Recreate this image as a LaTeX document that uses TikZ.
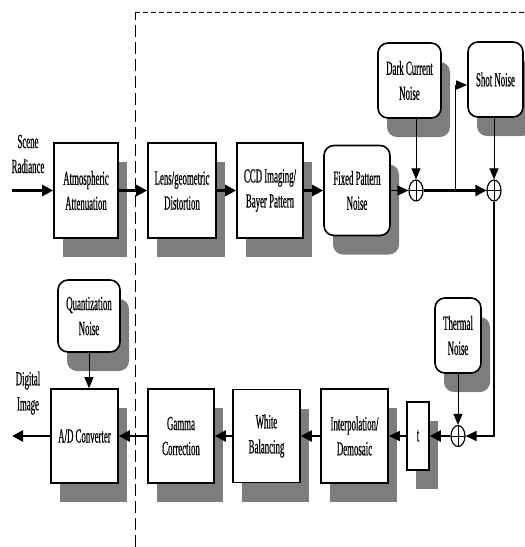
\documentclass[tikz,border=0pt]{standalone}
\usepackage{fontspec}
\newfontfamily\lab{Liberation Serif}[FakeStretch=0.44,FakeBold=0.5]
\usetikzlibrary{arrows.meta,shapes.geometric,shadows}
\definecolor{shade}{RGB}{125,125,125}
\begin{document}
\begin{tikzpicture}[x=1pt,y=-1pt,
  every node/.style={font=\lab\fontsize{20}{25}\selectfont, align=center, inner sep=0pt},
  blk/.style={draw, line width=1.6pt, fill=white,
    drop shadow={shadow xshift=9pt,shadow yshift=-19pt,fill=shade,opacity=1}},
  rnd/.style={blk, rounded corners=10pt},
  sumnode/.style={draw, ellipse, line width=1.2pt, fill=white, minimum width=14pt, minimum height=21pt,
    path picture={\draw[line width=1pt] (path picture bounding box.north) -- (path picture bounding box.south)
      (path picture bounding box.west) -- (path picture bounding box.east);}},
  flow/.style={line width=2.4pt, -{Triangle[length=11pt,width=11pt]}},
  mid/.style={line width=1.6pt, -{Triangle[length=11pt,width=10pt]}},
  feed/.style={line width=1pt, -{Triangle[length=11pt,width=9pt]}},
  hdash/.style={line width=1pt, dash pattern=on 5pt off 3pt},
  vdash/.style={line width=1pt, dash pattern=on 12pt off 5pt}
]
\useasboundingbox (0,0) rectangle (525,547);
% dashed frame
\coordinate (fc) at (135,12);
\coordinate (fb) at (135,547);
\coordinate (fr) at (525,12);
\draw[vdash] (fb) -- (fc);
\draw[hdash] (fc) -- (fr);
% top row
\node (srt) at (28,154) {\fontsize{20}{28}\selectfont Scene\\Radiance};
\coordinate (src) at (12,190.5);
\node[blk, minimum width=64pt, minimum height=95pt] (atm) at (86,190.5) {Atmospheric\\Attenuation};
\node[blk, minimum width=68pt, minimum height=95pt] (lens) at (182,190.5) {Lens/geometric\\Distortion};
\node[blk, minimum width=66pt, minimum height=95pt] (ccd) at (270,190.5) {CCD Imaging/\\Bayer Pattern};
\node[rnd, minimum width=66pt, minimum height=90pt] (fpn) at (357,190.5) {Fixed Pattern\\Noise};
\node[rnd, minimum width=63pt, minimum height=75pt] (dark) at (409.5,80.5) {Dark Current\\Noise};
\node[rnd, minimum width=55pt, minimum height=75pt] (shot) at (495.5,79.5) {Shot Noise};
\node[sumnode] (s1) at (416,190.5) {};
\node[sumnode] (s2) at (494,190.5) {};
% bottom row
\node[rnd, minimum width=46pt, minimum height=75pt] (therm) at (458,335.5) {Thermal\\Noise};
\node[sumnode] (s3) at (458,436) {};
\node[blk, minimum width=22pt, minimum height=68pt] (t) at (418,436) {t};
\node[blk, minimum width=67pt, minimum height=94pt] (interp) at (354.5,436) {Interpolation/\\Demosaic};
\node[blk, minimum width=67pt, minimum height=93pt] (white) at (266.5,436) {White\\Balancing};
\node[blk, minimum width=66pt, minimum height=94pt] (gamma) at (181,436) {Gamma\\Correction};
\node[blk, minimum width=67pt, minimum height=94pt] (ad) at (84.5,436) {A/D Converter};
\node[rnd, minimum width=62pt, minimum height=72pt] (quant) at (89,316) {Quantization\\Noise};
\node (dit) at (28,393) {\fontsize{20}{28}\selectfont Digital\\Image};
\coordinate (out) at (12,436);
% connectors top
\draw[flow] (src) -- (atm);
\draw[flow] (atm) -- (lens);
\draw[flow] (lens) -- (ccd);
\draw[flow] (ccd) -- (fpn);
\draw[mid] (fpn) -- (s1);
\draw[flow] (s1) -- (s2);
\draw[feed] (dark.south -| s1) -- (s1.north);
\draw[feed] (shot.south -| s2) -- (s2.north);
\coordinate (br) at (455,190.5);
\coordinate (bt) at (455,85);
\draw[feed] (br) -- (bt) -- (shot.west |- bt);
% right side and bottom
\draw[mid] (s2.south) |- (s3.east);
\draw[feed] (therm) -- (s3.north);
\draw[flow] (s3) -- (t);
\draw[mid] (t) -- (interp);
\draw[flow] (interp) -- (white);
\draw[flow] (white) -- (gamma);
\draw[flow] (gamma) -- (ad);
\draw[flow] (ad) -- (out);
\draw[feed] (quant.south) -- (quant.south |- ad.north);
\end{tikzpicture}
\end{document}
